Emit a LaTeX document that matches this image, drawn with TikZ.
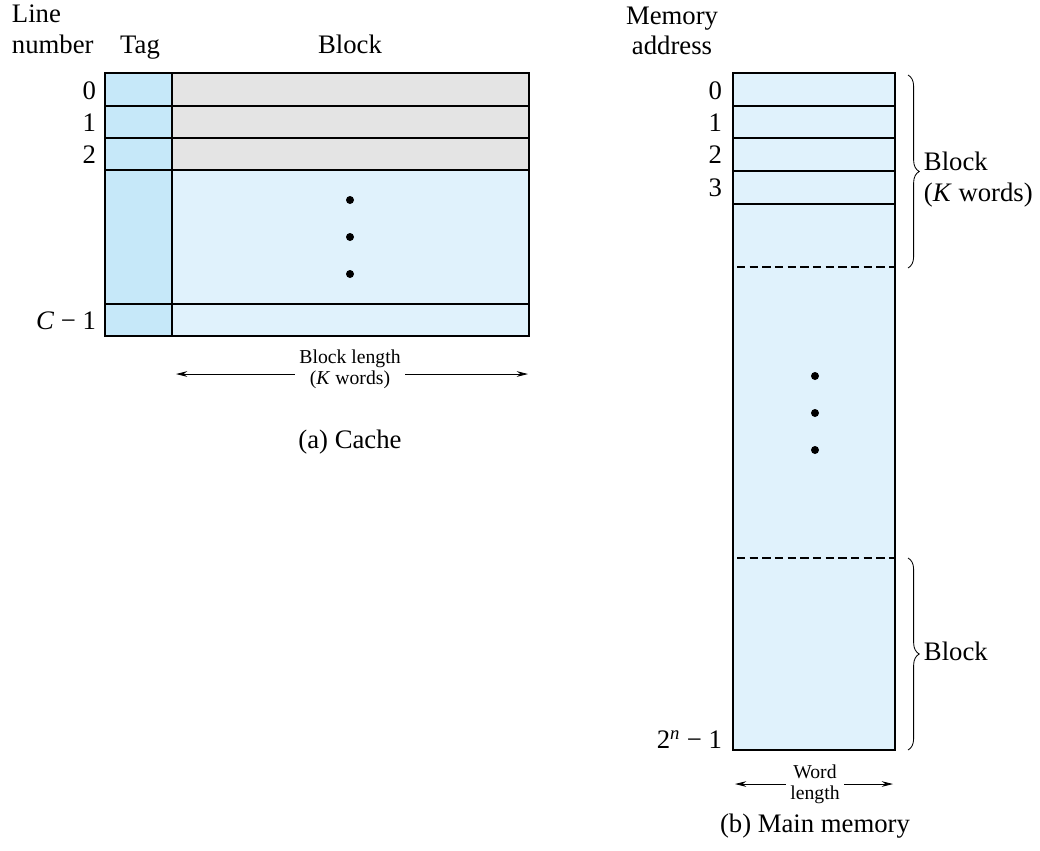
\documentclass[tikz,border=0pt]{standalone}
\usepackage{fontspec}
\setmainfont{Liberation Serif}
\usetikzlibrary{arrows.meta,decorations.pathreplacing,positioning}
\definecolor{tagblue}{HTML}{C6E8F9}
\definecolor{cellblue}{HTML}{E0F2FC}
\definecolor{cellgray}{HTML}{E4E4E4}

\begin{document}
\begin{tikzpicture}[x=0.025cm, y=-0.025cm, line width=0.8pt,
    txt/.style={font=\fontsize{19}{22}\selectfont, inner sep=1pt},
    lbl/.style={txt, text height=1.6ex, text depth=0.45ex},
    small/.style={font=\fontsize{14}{15}\selectfont, align=center, inner sep=3pt},
    dimarrow/.style={-{Stealth[length=8pt,width=4pt]}, line width=0.6pt},
    brc/.style={decorate, decoration={brace, amplitude=8pt}, line width=0.6pt}]
    \useasboundingbox (0, 0) rectangle (1040, 850);

    % (a) cache
    \fill[tagblue] (105, 73) rectangle (172, 336);
    \fill[cellgray] (172, 73) rectangle (529, 170);
    \fill[cellblue] (172, 170) rectangle (529, 336);
    \draw (105, 73) rectangle (529, 336);
    \draw (172, 73) -- (172, 336);
    \foreach \y in {106, 138, 170, 304}
      \draw (105, \y) -- (529, \y);
    \foreach \y in {200, 237, 274}
      \fill (350, \y) circle (4);

    \node[lbl, anchor=west] (line) at (10, 19) {Line};
    \node[lbl, anchor=west] (number) at (10, 50) {number};
    \node[lbl] (tag) at (140, 50) {Tag};
    \node[lbl] (block) at (350, 50) {Block};

    \node[lbl, anchor=east] (c0) at (98, 96) {0};
    \node[lbl, anchor=east] (c1) at (98, 128) {1};
    \node[lbl, anchor=east] (c2) at (98, 160) {2};
    \node[lbl, anchor=east] (cl) at (98, 326) {\textit{C} − 1};

    \node[small] (blen) at (350, 369) {Block length\\(\textit{K} words)};
    \coordinate (blenL) at (176, 374);
    \coordinate (blenR) at (528, 374);
    \draw[dimarrow] (blen.west |- blenL) -- (blenL);
    \draw[dimarrow] (blen.east |- blenR) -- (blenR);

    \node[lbl] (capa) at (350, 445) {(a) Cache};

    % (b) main memory
    \fill[cellblue] (733, 73) rectangle (895, 750);
    \draw (733, 73) rectangle (895, 750);
    \foreach \y in {106, 138, 171, 204}
      \draw (733, \y) -- (895, \y);
    \draw[dashed, dash pattern=on 6pt off 3pt] (737, 267) -- (895, 267);
    \draw[dashed, dash pattern=on 6pt off 3pt] (737, 558) -- (895, 558);
    \foreach \y in {376, 413, 450}
      \fill (815, \y) circle (4);

    \node[lbl] (memory) at (672, 21) {Memory};
    \node[lbl] (address) at (672, 51) {address};

    \node[lbl, anchor=east] (m0) at (724, 96) {0};
    \node[lbl, anchor=east] (m1) at (724, 128) {1};
    \node[lbl, anchor=east] (m2) at (724, 160) {2};
    \node[lbl, anchor=east] (m3) at (724, 193) {3};
    \node[lbl, anchor=east] (mlast) at (724, 745) {2\textsuperscript{\textit{n}} − 1};

    \coordinate (b1top) at (908, 75);
    \coordinate (b1bot) at (908, 268);
    \coordinate (b2top) at (908, 558);
    \coordinate (b2bot) at (908, 750);
    \draw[brc] (b1top) -- (b1bot);
    \draw[brc] (b2top) -- (b2bot);
    \node[txt, anchor=west, align=left] (kblock) at (922, 180) {Block\\(\textit{K} words)};
    \node[lbl, anchor=west] (lblock) at (922, 657) {Block};

    \node[small] (wlen) at (815, 784) {Word\\length};
    \coordinate (wlenL) at (735, 784);
    \coordinate (wlenR) at (893, 784);
    \draw[dimarrow] (wlen.west |- wlenL) -- (wlenL);
    \draw[dimarrow] (wlen.east |- wlenR) -- (wlenR);

    \node[lbl] (capb) at (815, 829) {(b) Main memory};
\end{tikzpicture}
\end{document}
